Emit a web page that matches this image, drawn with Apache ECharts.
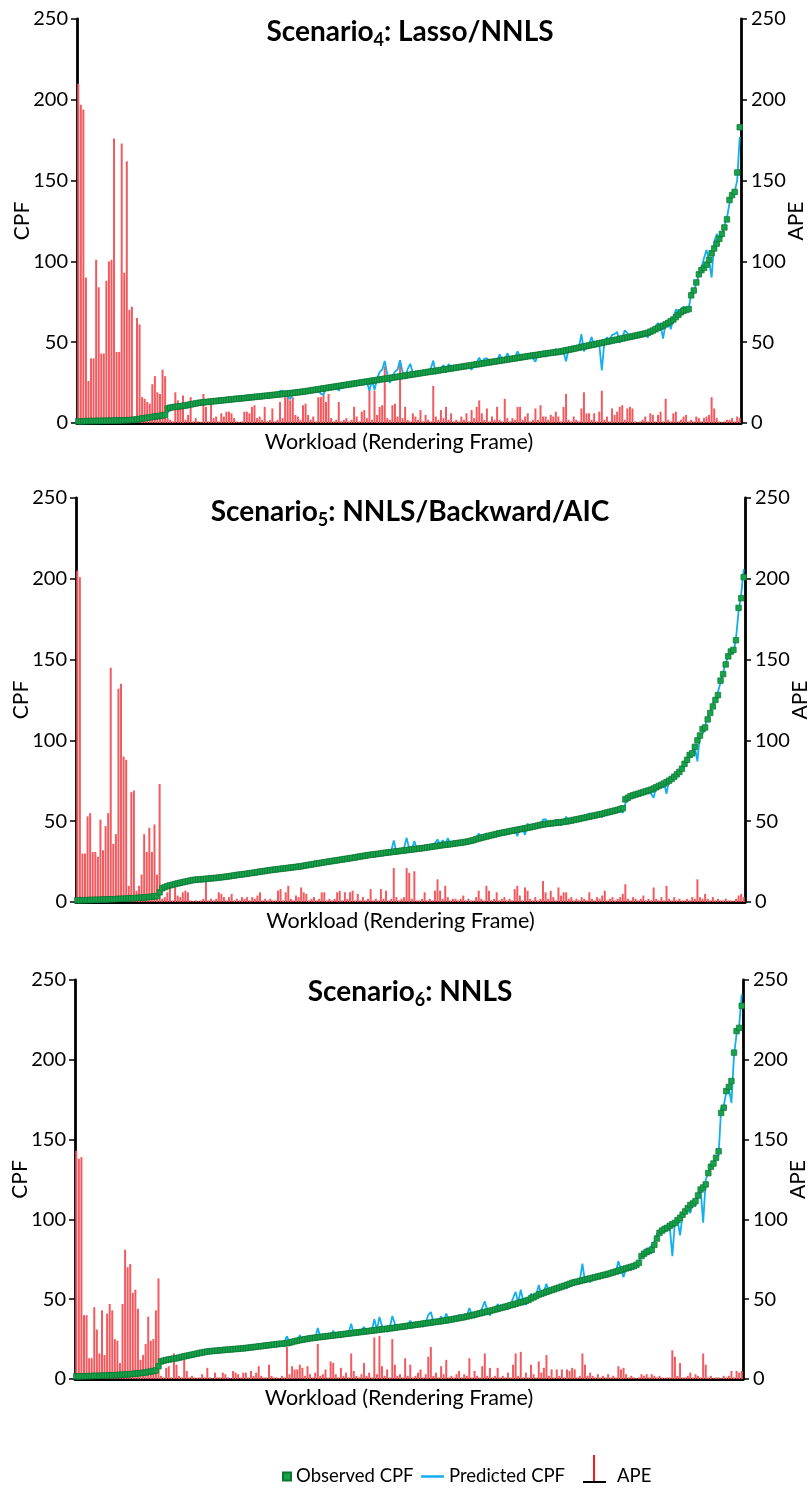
<!DOCTYPE html>
<html><head><meta charset="utf-8">
<script src="https://cdn.jsdelivr.net/npm/echarts@6/dist/echarts.min.js"></script>
<style>html,body{margin:0;padding:0;background:#fff}#c{width:810px;height:1490px}</style>
</head><body><div id="c"></div>
<script>
// ---------- Scenario 4 ----------
const obs1 = [
1.0,1.0,1.1,1.1,1.2,1.2,1.2,1.3,1.3,1.3,
1.4,1.4,1.4,1.5,1.5,1.5,1.6,1.6,1.7,1.7,
1.8,1.9,2.0,2.2,2.5,2.8,3.0,3.2,3.5,3.7,
4.0,4.2,4.4,4.7,5.0,9.0,9.5,9.8,10.0,10.2,
10.4,10.6,10.8,11.2,11.5,11.8,12.1,12.4,12.6,12.8,
13.0,13.1,13.3,13.5,13.6,13.8,14.0,14.1,14.3,14.5,
14.6,14.8,15.0,15.1,15.3,15.4,15.6,15.8,15.9,16.1,
16.3,16.4,16.6,16.8,16.9,17.1,17.3,17.4,17.6,17.8,
17.9,18.1,18.3,18.4,18.6,18.8,19.0,19.2,19.4,19.6,
19.9,20.1,20.4,20.6,20.9,21.1,21.4,21.6,21.9,22.1,
22.4,22.6,22.9,23.1,23.4,23.6,23.9,24.1,24.4,24.6,
24.9,25.1,25.4,25.6,25.9,26.1,26.4,26.6,26.9,27.1,
27.4,27.6,27.8,28.1,28.3,28.6,28.8,29.1,29.3,29.6,
29.8,30.1,30.3,30.6,30.8,31.1,31.3,31.6,31.8,32.0,
32.3,32.5,32.8,33.0,33.3,33.5,33.8,34.0,34.3,34.5,
34.8,35.0,35.3,35.5,35.8,36.0,36.3,36.5,36.8,37.0,
37.3,37.5,37.8,38.0,38.3,38.5,38.8,39.0,39.3,39.5,
39.8,40.0,40.3,40.5,40.8,41.0,41.3,41.5,41.8,42.0,
42.2,42.5,42.7,43.0,43.2,43.4,43.6,43.8,44.0,44.3,
44.6,45.0,45.3,45.6,46.0,46.3,46.6,47.0,47.3,47.6,
48.0,48.3,48.6,49.0,49.3,49.6,50.0,50.3,50.6,51.0,
51.3,51.6,52.0,52.3,52.6,53.0,53.3,53.6,54.0,54.3,
54.7,55.0,55.4,55.8,56.5,57.2,58.0,58.8,59.5,60.2,
61.0,62.0,63.0,64.0,65.5,67.0,68.5,69.5,70.0,70.5,
79,82,87,92,94.6,96,98,101,105,108,
111,114,117,121,126,138,141,143,155,183];
const pred1 = [
1.5,2.2,2.0,1.4,1.3,1.6,1.8,1.5,1.4,1.6,
1.9,2.4,2.0,1.6,1.8,2.6,2.4,1.9,2.5,2.6,
2.1,2.0,2.2,2.4,2.6,2.9,3.1,3.3,3.4,3.8,
4.1,4.3,4.3,4.8,5.1,6.5,9.0,10.2,10.5,9.4,
10.8,10.9,10.2,11.5,11.7,11.0,12.4,12.8,12.9,13.1,
12.2,11.6,13.2,13.8,13.9,13.5,14.3,14.5,14.1,14.7,
15.0,14.6,15.3,15.4,15.0,15.8,15.9,15.6,16.2,16.4,
16.0,16.8,16.9,16.6,17.2,17.5,17.1,17.7,17.9,19.8,
20.0,18.0,16.5,14.8,18.9,19.1,18.7,19.6,19.8,19.3,
20.3,20.0,20.8,20.9,20.1,18.0,17.6,21.4,22.3,21.8,
22.7,22.9,19.9,23.5,24.2,23.4,24.3,24.5,24.8,25.2,
24.7,25.6,26.3,25.4,19.9,26.8,20.4,27.5,31.5,33.0,
38.4,30.0,24.8,29.0,31.8,33.0,38.8,31.5,27.3,33.5,
36.6,31.0,29.5,31.2,30.5,31.8,31.0,32.2,33.5,38.6,
30.3,33.4,33.6,35.8,31.3,36.5,34.5,33.6,34.8,34.2,
35.3,35.4,34.9,35.9,32.8,36.8,37.5,40.5,37.2,39.8,
40.0,38.4,37.3,38.6,38.0,42.5,39.2,38.7,43.2,39.9,
40.4,40.6,44.3,41.0,40.6,41.4,41.8,41.2,40.0,38.0,
42.6,42.8,43.2,41.0,43.6,44.0,44.1,45.8,44.3,45.0,
44.1,38.2,46.0,45.3,46.5,46.8,46.2,55.0,44.3,48.3,
48.6,53.3,47.6,49.4,49.0,32.5,50.2,53.0,51.0,54.6,
55.0,56.3,49.6,52.5,57.3,55.6,52.8,54.0,53.1,54.3,
55.0,54.2,55.6,52.8,57.5,58.0,59.6,61.8,60.3,52.2,
62.0,63.5,58.0,65.0,70.2,69.0,70.5,72.0,71.0,70.8,
79.5,82,86,92,96,102,107,101,90,112,
117,113,115,122,127,136,140,143,150,177];
const ape1 = [
210,197,194,90,26,40,40,101,84,43,
43,88,100,101,176,44,44,173,93,162,
70,72,4,65,61,16,15,13,12,24,
29,19,18,33,29,3,2,1,19,14,
12,17,2,5,16,1,3,1,0.5,18,
10,1,12,3,4,1,6,4,7,7,
6,3,1,0.5,1,7,7,6,10,11,
3,4,2,10,1,2,9,1,2,13,
3,16,17,14,16,5,4,2,11,12,
5,2,4,1,16,16,18,13,18,3,
1,2,13,1,2,3,1,2,10,4,
1,7,8,3,20,2,20,5,10,11,
35,3,2,11,12,4,38,3,10,2,
1,6,4,2,8,1,5,2,1,23,
4,2,8,3,10,2,6,1,2,1,
4,2,6,1,8,3,10,14,6,2,
9,1,4,2,10,2,1,15,3,1,
3,2,10,10,2,4,6,1,2,9,
2,11,4,4,2,5,4,7,4,1,
10,18,2,1,4,2,1,9,19,6,
6,2,6,1,7,20,2,4,1,9,
5,7,10,11,2,9,10,9,1,0.5,
1,2,4,1,6,5,1,5,7,1,
15,2,1,6,7,1,2,4,5,1,
2,1,4,3,1,3,4,5,16,9,
3,1,0.5,1,2,2,3,1,4,3];

// ---------- Scenario 5 ----------
const obs2 = [
1.0,1.0,1.1,1.1,1.2,1.2,1.3,1.3,1.4,1.4,
1.5,1.5,1.6,1.7,1.7,1.8,1.9,2.0,2.0,2.1,
2.2,2.3,2.4,2.5,2.6,2.7,2.8,3.0,3.1,3.3,
3.5,3.7,6.0,8.5,9.2,9.8,10.3,10.7,11.1,11.5,
11.9,12.2,12.6,12.9,13.3,13.6,13.8,13.9,14.0,14.2,
14.3,14.5,14.6,14.8,14.9,15.1,15.3,15.5,15.7,15.9,
16.2,16.4,16.7,16.9,17.1,17.3,17.5,17.8,18.0,18.2,
18.5,18.8,19.0,19.2,19.5,19.7,19.9,20.1,20.3,20.5,
20.7,20.9,21.1,21.3,21.5,21.7,21.9,22.1,22.4,22.7,
23.0,23.2,23.5,23.8,24.0,24.3,24.6,24.8,25.1,25.3,
25.6,25.8,26.1,26.3,26.6,26.8,27.1,27.3,27.6,27.9,
28.2,28.4,28.7,29.0,29.2,29.4,29.6,29.8,30.0,30.3,
30.5,30.7,30.9,31.1,31.3,31.5,31.7,31.9,32.1,32.3,
32.5,32.7,32.9,33.1,33.3,33.5,33.8,34.0,34.3,34.5,
34.7,35.0,35.2,35.4,35.6,35.8,36.0,36.3,36.5,36.7,
36.9,37.2,37.5,37.9,38.3,38.8,39.3,39.7,40.1,40.5,
40.9,41.3,41.7,42.1,42.5,42.8,43.1,43.4,43.8,44.1,
44.4,44.7,45.0,45.3,45.6,45.9,46.2,46.6,46.9,47.3,
47.7,48.0,48.2,48.4,48.6,48.8,49.0,49.2,49.4,49.6,
49.8,50.1,50.4,50.8,51.1,51.4,51.8,52.1,52.5,52.8,
53.2,53.5,53.9,54.2,54.6,55.0,55.4,55.8,56.2,56.6,
57.0,57.5,58.0,63.5,64.5,65.5,66.0,66.5,67.0,67.5,
68.0,68.5,69.0,69.5,70.2,71.0,71.8,72.5,73.3,74.2,
75.1,76.2,77.5,79.0,80.5,82.5,85.5,88,91,92,
96,100,103,107,108,113,117,121,125,128,
137,141,147,152,155,156,162,182,188,201];
const pred2 = [
1.6,1.8,1.3,1.2,1.5,1.4,1.3,1.6,1.9,1.5,
1.5,1.7,1.8,1.7,2.3,2.1,1.9,2.4,2.1,2.3,
2.5,2.3,2.6,2.5,2.9,2.7,2.9,3.2,3.1,3.5,
3.6,3.9,7.5,9.0,9.5,9.6,10.5,10.9,11.0,11.8,
12.0,12.4,12.5,13.1,13.4,13.5,13.9,14.2,13.8,14.4,
12.3,14.2,14.8,15.0,14.7,15.3,15.4,15.7,15.9,16.1,
16.0,16.7,16.5,17.2,17.0,17.6,17.4,18.1,17.8,18.6,
18.3,19.0,19.2,18.9,19.8,19.6,20.3,19.9,20.6,20.4,
21.0,20.7,21.5,21.1,21.8,21.5,22.3,22.5,22.2,23.2,
22.8,23.6,23.2,24.3,23.8,24.8,24.3,25.3,24.9,25.7,
25.3,26.4,25.8,26.8,26.3,27.4,26.9,27.8,27.3,28.5,
28.0,28.9,28.5,29.4,29.0,29.8,29.4,30.1,29.8,30.6,
30.2,31.0,31.5,38.1,31.0,30.5,32.5,33.5,39.7,33.0,
32.3,37.7,32.7,33.4,33.0,33.8,33.6,34.3,34.5,36.5,
38.7,35.3,38.2,35.6,39.6,36.0,36.5,36.1,36.8,37.3,
36.8,37.8,37.6,38.2,38.8,39.2,42.3,40.3,40.4,42.5,
41.0,41.8,41.5,42.6,42.8,43.0,43.6,43.3,44.2,44.0,
44.8,40.7,46.5,45.6,41.6,48.6,46.0,46.9,47.1,47.8,
47.5,51.0,51.2,48.5,47.4,49.4,51.0,49.5,47.4,49.9,
52.8,50.3,50.9,50.6,51.6,51.2,52.3,52.0,53.0,54.8,
54.0,53.3,54.3,53.8,52.6,55.4,55.1,56.3,56.0,56.9,
56.6,57.8,55.0,61.0,65.5,65.0,67.0,66.0,67.8,68.5,
67.6,69.2,68.2,67.0,64.5,71.5,72.5,72.0,74.0,67.0,
76.0,76.8,78.0,79.5,81.5,83.0,86.0,88.5,91.0,93.5,
96.0,87.0,104,104,109,114,118,122,126,130,
136,142,148,152,155,154,163,180,190,206];
const ape2 = [
205,201,30,30,53,55,31,31,28,51,
32,47,55,145,36,42,132,135,90,88,
10,68,69,7,10,17,42,31,46,31,
48,17,73,2,3,6,9,1,9,4,
3,6,7,6,1,0.5,1,0.5,1,2,
14,1,2,1,2,6,5,3,1,3,
5,1,2,1,3,2,3,1,3,2,
4,6,1,2,1,2,1,1,7,8,
1,6,10,2,1,4,3,9,6,5,
1,2,3,1,2,6,6,1,2,1,
2,6,7,1,6,2,6,7,1,5,
1,3,1,2,8,1,2,1,8,2,
7,1,2,21,3,1,2,3,21,18,
2,19,1,1,2,6,1,2,1,7,
14,7,2,10,3,1,2,2,1,2,
4,1,2,1,1,3,7,2,1,10,
7,1,2,6,1,2,3,1,2,1,
8,10,4,1,9,7,2,1,3,1,
2,13,6,2,7,3,1,9,4,6,
6,2,3,1,2,1,3,2,1,6,
2,1,3,2,4,7,1,2,3,1,
2,3,5,11,2,1,3,2,1,2,
4,1,2,1,9,2,1,3,1,10,
2,1,3,1,2,1,1,2,1,3,
2,14,3,2,5,2,1,3,1,2,
1,1,2,1,1,0.5,2,4,5,3];

// ---------- Scenario 6 ----------
const obs3 = [
1.6,1.6,1.7,1.7,1.8,1.8,1.9,1.9,2.0,2.0,
2.1,2.1,2.2,2.3,2.3,2.4,2.5,2.6,2.7,2.8,
2.9,3.0,3.2,3.3,3.5,3.7,3.9,4.1,4.4,4.7,
5.0,5.4,8.0,11.0,11.5,11.9,12.2,12.5,12.8,13.0,
13.4,13.8,14.2,14.5,14.9,15.2,15.6,15.9,16.3,16.6,
16.9,17.2,17.4,17.5,17.7,17.8,18.0,18.1,18.3,18.4,
18.5,18.7,18.8,18.9,19.1,19.2,19.4,19.6,19.8,20.0,
20.2,20.4,20.6,20.8,21.0,21.2,21.4,21.6,21.8,22.0,
22.1,22.3,22.4,22.8,23.2,23.6,24.0,24.3,24.6,24.9,
25.2,25.5,25.7,25.9,26.1,26.3,26.5,26.7,26.9,27.1,
27.3,27.5,27.7,27.9,28.1,28.3,28.5,28.7,28.9,29.1,
29.3,29.5,29.7,29.9,30.1,30.3,30.5,30.7,30.9,31.1,
31.3,31.5,31.7,31.9,32.1,32.4,32.6,32.8,33.0,33.3,
33.5,33.7,34.0,34.2,34.4,34.7,34.9,35.1,35.3,35.6,
35.8,36.0,36.2,36.5,36.7,37.0,37.3,37.6,37.9,38.2,
38.5,38.8,39.2,39.5,39.9,40.3,40.7,41.1,41.5,41.9,
42.3,42.7,43.1,43.5,44.0,44.4,44.8,45.3,45.7,46.2,
46.6,47.1,47.6,48.0,48.5,49.0,49.5,50.5,51.2,52.0,
52.9,53.4,54.0,54.6,55.1,55.7,56.2,56.8,57.3,57.9,
58.4,59.0,59.6,60.2,60.6,61.0,61.4,61.8,62.2,62.6,
63.0,63.4,63.8,64.2,64.6,65.0,65.4,65.8,66.3,66.8,
67.3,67.8,68.3,68.8,69.3,69.8,70.3,70.7,71.5,72.8,
77.0,78.5,79.5,80.2,81.0,84,88,91.6,93.0,94.0,
94.7,96.0,97.0,97.8,99.5,101,103,105,107,109,
110,111.4,115,118.7,120,121.9,129,133,135,138.6,
142.7,166.7,170,180.4,183,186.7,204.5,218,220,233.8];
const pred3 = [
2.0,1.8,1.9,2.1,2.0,1.9,2.2,2.0,2.3,2.2,
2.1,2.4,2.3,2.5,2.4,2.6,2.8,2.7,2.9,3.0,
3.1,3.2,3.4,3.5,3.6,3.9,4.0,4.3,4.5,4.9,
5.1,5.6,9.5,11.5,11.8,12.3,12.1,12.9,12.6,13.3,
13.6,14.1,14.0,14.8,15.0,15.4,15.5,16.2,16.1,16.9,
17.0,17.5,17.6,17.3,17.9,18.0,17.8,18.3,18.5,18.3,
18.7,18.9,18.7,19.2,19.0,19.4,19.6,19.5,20.0,19.9,
20.4,20.3,20.8,20.7,21.2,21.1,21.6,21.5,22.0,22.2,
22.0,23.3,26.8,22.6,23.5,23.4,24.2,27.4,24.4,25.1,
25.0,25.8,25.9,25.6,32.0,26.1,26.9,26.5,27.3,26.9,
30.3,27.2,27.9,25.9,28.4,28.0,28.8,34.7,27.9,29.4,
29.1,29.8,32.7,29.6,30.4,30.0,37.5,30.9,38.9,33.1,
31.0,29.5,31.9,39.5,34.6,32.1,32.9,33.2,32.7,33.8,
36.5,34.0,33.6,34.8,34.0,32.7,35.4,40.1,42.0,36.0,
35.5,36.4,39.2,36.2,41.0,36.8,37.6,37.3,38.3,40.2,
38.2,39.3,39.6,44.5,40.2,38.3,41.0,41.4,44.5,48.6,
42.8,39.7,43.5,43.2,47.0,44.2,45.1,45.0,43.7,46.6,
50.6,54.6,47.8,56.0,48.4,46.5,49.3,53.5,51.0,52.4,
58.9,53.0,54.8,59.6,54.4,56.3,55.8,57.5,56.6,58.5,
58.0,57.0,60.4,59.5,61.2,60.4,62.0,72.3,61.0,63.3,
60.6,63.8,63.2,64.6,64.0,65.6,65.0,66.3,65.8,67.3,
66.9,73.8,68.6,63.8,69.8,69.2,68.3,71.3,72.1,73.4,
78.0,79.0,82.0,80.5,84.0,86,91,93,93.5,96,
95.0,95.5,77.0,98.5,100,90,103,106,107,104,
111,108,116,119,98,125,129,133,136,139,
140,170,171,180,182,173,203,216,221,241];
const ape3 = [
143,138,139,40,40,13,13,45,31,16,
43,15,41,47,43,25,24,10,47,81,
70,72,54,56,44,12,15,22,39,24,
25,43,63,2,1,7,8,1,16,9,
2,1,12,5,1,2,1,0.5,1,3,
1,7,1,0.5,4,1,1,4,3,1,
0.5,5,4,3,1,4,4,1,5,2,
4,8,2,1,1,9,2,1,1,0.5,
2,1,20,3,8,6,6,9,7,2,
8,3,1,4,22,2,3,6,1,11,
10,3,1,7,2,4,1,16,5,2,
1,3,10,2,4,1,26,3,27,8,
2,6,1,25,9,2,3,1,13,2,
9,1,2,4,6,1,3,14,20,2,
4,1,8,3,12,1,2,1,3,5,
1,3,2,13,1,5,2,1,8,16,
2,7,1,2,7,1,2,1,4,1,
9,16,2,17,1,4,1,9,3,1,
11,4,7,15,2,6,1,6,2,6,
1,6,5,7,6,1,2,16,9,2,
4,2,1,3,1,2,1,3,1,2,
1,8,6,7,3,1,2,1,0.5,1,
3,2,3,1,3,2,1,2,1,0.5,
1,1,18,14,2,10,1,1,2,4,
1,3,2,1,16,9,1,2,0.5,1,
1,0.5,2,1,2,5,1,5,4,5];

const panelTitles = [
  ['4', ': Lasso/NNLS'],
  ['5', ': NNLS/Backward/AIC'],
  ['6', ': NNLS']
];
const yTicks = [0, 50, 100, 150, 200, 250];
const xName = 'Workload (Rendering Frame)';
const seriesNames = ['Observed CPF', 'Predicted CPF', 'APE'];

const frames = obs1.map((_, i) => i + 1);
const panels = [
  {obs: obs1, pred: pred1, ape: ape1},
  {obs: obs2, pred: pred2, ape: ape2},
  {obs: obs3, pred: pred3, ape: ape3}
];

const FONT = 'Lato';
const grids = [
  {left: 77, right: 69, top: 19, height: 404, outerBoundsMode: 'none', containLabel: false},
  {left: 76, right: 65, top: 498, height: 404, outerBoundsMode: 'none', containLabel: false},
  {left: 75, right: 67, top: 980, height: 399, outerBoundsMode: 'none', containLabel: false}
];
const titleTops = [15, 495, 975];

const GREEN = '#17A34A', GREEN_D = '#0A7433', BLUE = '#12AFEF', RED = '#F25A5F';

const option = {
  animation: false,
  backgroundColor: '#fff',
  title: panelTitles.map((t, k) => ({
    text: '{b|Scenario}{s|' + t[0] + '}{b|' + t[1] + '}',
    left: 410, top: titleTops[k], textAlign: 'center', padding: 0,
    textStyle: {
      rich: {
        b: {fontSize: 28, fontWeight: 'bold', fontFamily: FONT, color: '#000', lineHeight: 34},
        s: {fontSize: 18, fontWeight: 'bold', fontFamily: FONT, color: '#000', lineHeight: 20, verticalAlign: 'bottom'}
      }
    }
  })),
  grid: grids,
  legend: [
    {data: [{name: seriesNames[0], icon: 'rect'}], left: 282, top: 1467, padding: 0,
     itemWidth: 8, itemHeight: 8, textStyle: {fontSize: 18.5, color: '#000', fontFamily: FONT}},
    {data: [{name: seriesNames[1], icon: 'rect'}], left: 421, top: 1467, padding: 0,
     itemWidth: 23, itemHeight: 2.5, textStyle: {fontSize: 18.5, color: '#000', fontFamily: FONT}},
    {data: [{name: seriesNames[2], icon: 'none'}], left: 590, top: 1467, padding: 0,
     itemWidth: 22, itemHeight: 14, textStyle: {fontSize: 18.5, color: '#000', fontFamily: FONT}}
  ],
  graphic: [
    {type: 'line', shape: {x1: 594, y1: 1455, x2: 594, y2: 1482}, style: {stroke: '#FF1A1A', lineWidth: 2}},
    {type: 'line', shape: {x1: 583, y1: 1482, x2: 606, y2: 1482}, style: {stroke: '#000', lineWidth: 2}}
  ],
  xAxis: grids.map((g, k) => ({
    type: 'category', gridIndex: k, data: frames, boundaryGap: true,
    axisLine: {show: true, lineStyle: {color: '#000', width: 3}},
    axisTick: {show: false}, axisLabel: {show: false}, splitLine: {show: false},
    name: xName, nameLocation: 'middle', nameGap: 8, nameMoveOverlap: false,
    nameTextStyle: {fontSize: 21.5, color: '#000', fontFamily: FONT, verticalAlign: 'top', padding: [0, 20, 0, 0]}
  })),
  yAxis: [].concat(...grids.map((g, k) => [
    {type: 'value', gridIndex: k, position: 'left', min: yTicks[0], max: yTicks[yTicks.length - 1],
     interval: yTicks[1] - yTicks[0],
     axisLine: {show: true, lineStyle: {color: '#000', width: 2.8}},
     axisTick: {show: true, length: 6, lineStyle: {color: '#000', width: 1.5}},
     axisLabel: {fontSize: 20, color: '#000', fontFamily: FONT, margin: 9},
     splitLine: {show: false},
     name: 'CPF', nameLocation: 'middle', nameGap: 44, nameRotate: 90, nameMoveOverlap: false,
     nameTextStyle: {fontSize: 21, color: '#000', fontFamily: FONT}},
    {type: 'value', gridIndex: k, position: 'right', min: yTicks[0], max: yTicks[yTicks.length - 1],
     interval: yTicks[1] - yTicks[0],
     axisLine: {show: true, lineStyle: {color: '#000', width: 2.8}},
     axisTick: {show: true, length: 6, lineStyle: {color: '#000', width: 1.5}},
     axisLabel: {fontSize: 20, color: '#000', fontFamily: FONT, margin: 10},
     splitLine: {show: false},
     name: 'APE', nameLocation: 'middle', nameGap: 45, nameRotate: 90, nameMoveOverlap: false,
     nameTextStyle: {fontSize: 21, color: '#000', fontFamily: FONT}}
  ])),
  series: [].concat(...panels.map((p, k) => [
    {name: seriesNames[2], type: 'bar', xAxisIndex: k, yAxisIndex: 2 * k + 1, data: p.ape,
     barWidth: 2, itemStyle: {color: RED}, z: 1},
    {name: seriesNames[1], type: 'line', xAxisIndex: k, yAxisIndex: 2 * k, data: p.pred,
     symbol: 'none', lineStyle: {color: BLUE, width: 1.8}, itemStyle: {color: BLUE}, z: 2},
    {name: seriesNames[0], type: 'scatter', xAxisIndex: k, yAxisIndex: 2 * k, data: p.obs,
     symbol: 'rect', symbolSize: 5.5,
     itemStyle: {color: GREEN, borderColor: GREEN_D, borderWidth: 0.7, opacity: 1}, z: 3}
  ]))
};

const chart = echarts.init(document.getElementById('c'), null, {renderer: 'canvas'});
chart.setOption(option);
</script>
</body></html>
